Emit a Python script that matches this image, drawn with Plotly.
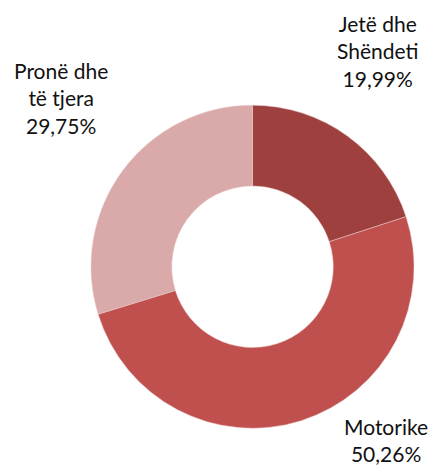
import plotly.graph_objects as go

labels = ["Jetë dhe Shëndeti", "Motorike", "Pronë dhe të tjera"]
values = [19.99, 50.26, 29.75]
colors = ["#9E413E", "#C0504D", "#D9AAA9"]
label_texts = ["Jetë dhe<br>Shëndeti<br>19,99%", "Motorike<br>50,26%", "Pronë dhe<br>të tjera<br>29,75%"]

W, H = 432, 466
cx, cy, R = 252.5, 266.7, 161.5

fig = go.Figure(go.Pie(
    labels=labels, values=values, sort=False, direction="clockwise", rotation=0,
    hole=0.5, marker=dict(colors=colors, line=dict(color="#E8C8C8", width=0.5)),
    textinfo="none", hoverinfo="label+percent", showlegend=False,
    domain=dict(x=[(cx - R) / W, (cx + R) / W], y=[(H - cy - R) / H, (H - cy + R) / H]),
))

positions = [(377, 51), (386, 440), (61, 98)]
for txt, (px, py) in zip(label_texts, positions):
    fig.add_annotation(text=txt, x=px / W, y=1 - py / H, xref="paper", yref="paper",
                       showarrow=False, xanchor="center", yanchor="middle", align="center",
                       borderpad=0,
                       font=dict(family="Lato, Open Sans, sans-serif", size=21, color="#111111"))

fig.update_layout(width=W, height=H, margin=dict(l=0, r=0, t=0, b=0),
                  paper_bgcolor="white", plot_bgcolor="white")
fig.write_html("out.html")
